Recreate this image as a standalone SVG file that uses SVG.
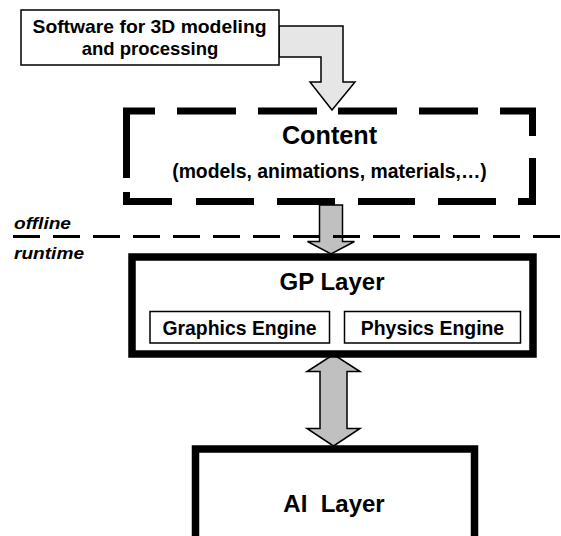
<svg xmlns="http://www.w3.org/2000/svg" width="561" height="536" viewBox="0 0 561 536">
<style>
text{font-family:"Liberation Sans",Arial,sans-serif;font-weight:bold;fill:#000}
.thin{fill:#fff;stroke:#000;stroke-width:1.5}
.thick{fill:#fff;stroke:#000;stroke-width:7.5}
.dash{fill:none;stroke:#000;stroke-width:7;stroke-linecap:butt;stroke-linejoin:miter}
.arr{stroke:#000;stroke-width:1.5;stroke-linejoin:miter}
</style>
<rect width="561" height="536" fill="#fff"/>
<g id="connectors">
<path class="arr" fill="#e6e6e6" d="M279,26 L343,26 L343,82 L355,82 L332,110 L310,82 L321,82 L321,57 L279,57 Z"/>
<path class="arr" fill="#c0c0c0" d="M319.5,205 L342.5,205 L342.5,241.5 L354.5,241.5 L331,254 L307.5,241.5 L319.5,241.5 Z"/>
<path class="arr" fill="#c0c0c0" d="M333.5,354.5 L360,371.5 L347,371.5 L347,428.5 L360,428.5 L333.5,446 L307,428.5 L320,428.5 L320,371.5 L307,371.5 Z"/>
</g>
<g id="software">
<rect class="thin" x="21" y="10" width="258" height="55"/>
<text x="32.5" y="33" font-size="18.5" textLength="234" lengthAdjust="spacingAndGlyphs">Software for 3D modeling</text>
<text x="150" y="55" font-size="18.5" text-anchor="middle">and processing</text>
</g>
<g id="content">
<path class="dash" d="M126.5,178 L126.5,111 L155,111 M177,111 L236,111 M258,111 L317,111 M338,111 L397,111 M419,111 L478,111 M500,111 L532.5,111 L532.5,136 M532.5,158 L532.5,201.5 L518,201.5 M496,201.5 L438,201.5 M415,201.5 L358,201.5 M335,201.5 L277,201.5 M254,201.5 L196,201.5 M172,201.5 L126.5,201.5 L126.5,192"/>
<text x="329.5" y="143.5" font-size="25.2" text-anchor="middle">Content</text>
<text x="329.5" y="177.5" font-size="19.4" text-anchor="middle">(models, animations, materials,…)</text>
</g>
<g id="divider">
<line x1="13" y1="236.5" x2="561" y2="236.5" stroke="#000" stroke-width="3" stroke-dasharray="27 13"/>
<text x="14" y="228.5" font-size="17" font-style="italic" textLength="57" lengthAdjust="spacingAndGlyphs">offline</text>
<text x="14" y="259" font-size="17" font-style="italic" textLength="70" lengthAdjust="spacingAndGlyphs">runtime</text>
</g>
<g id="gp-layer">
<rect class="thick" x="132" y="257" width="401" height="97"/>
<text x="332" y="290" font-size="24" text-anchor="middle">GP Layer</text>
</g>
<g id="graphics-engine">
<rect class="thin" x="150" y="311.5" width="179.5" height="31.5"/>
<text x="239.5" y="334.5" font-size="19.4" text-anchor="middle">Graphics Engine</text>
</g>
<g id="physics-engine">
<rect class="thin" x="344.5" y="311.5" width="176" height="31.5"/>
<text x="432.5" y="334.5" font-size="19.4" text-anchor="middle">Physics Engine</text>
</g>
<g id="ai-layer">
<rect class="thick" x="195.5" y="449" width="279" height="100"/>
<text x="334" y="511.5" font-size="24" text-anchor="middle" xml:space="preserve">AI  Layer</text>
</g>
</svg>
